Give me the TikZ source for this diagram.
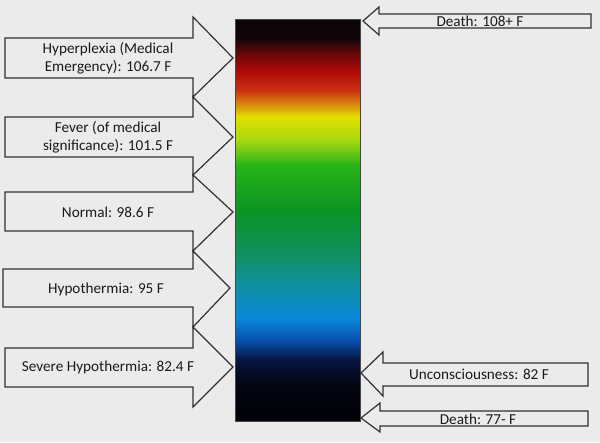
\documentclass[tikz,border=0pt]{standalone}
\usepackage{fontspec}
\setmainfont{Carlito}
\definecolor{bg}{HTML}{EBEBEB}
\definecolor{ink}{HTML}{1A1A1A}
\definecolor{c00}{HTML}{020208}
\definecolor{c01}{HTML}{030510}
\definecolor{c02}{HTML}{061440}
\definecolor{c03}{HTML}{0850B0}
\definecolor{c04}{HTML}{0A88D8}
\definecolor{c05}{HTML}{1090A8}
\definecolor{c06}{HTML}{109060}
\definecolor{c07}{HTML}{0C9424}
\definecolor{c08}{HTML}{28B418}
\definecolor{c09}{HTML}{A8D810}
\definecolor{c10}{HTML}{E2E000}
\definecolor{c11}{HTML}{D88010}
\definecolor{c12}{HTML}{C83010}
\definecolor{c13}{HTML}{B00A08}
\definecolor{c14}{HTML}{700808}
\definecolor{c15}{HTML}{100508}
\definecolor{c16}{HTML}{0A0508}
\pgfdeclareverticalshading{thermo}{100bp}{color(0bp)=(c00); color(25bp)=(c00); color(29.48bp)=(c01); color(32.59bp)=(c02); color(35.07bp)=(c03); color(37.81bp)=(c04); color(41.54bp)=(c05); color(45.65bp)=(c06); color(51.24bp)=(c07); color(56.84bp)=(c08); color(59.95bp)=(c09); color(62.81bp)=(c10); color(64.55bp)=(c11); color(66.17bp)=(c12); color(68.41bp)=(c13); color(70.52bp)=(c14); color(72.64bp)=(c15); color(75bp)=(c16); color(100bp)=(c16)}
\begin{document}
\begin{tikzpicture}[x=1pt,y=-1pt,
  arr/.style={draw=ink!90,line width=1.2pt,fill=bg,line join=miter},
  lbl/.style={text=ink,align=center,inner sep=0pt,font=\fontsize{15.2}{18}\selectfont}]
\fill[bg] (0,0) rectangle (600,442);
\useasboundingbox (0,0) rectangle (600,442);
% thermometer bar
\shade[shading=thermo] (235,19) rectangle (360,421);
\draw[draw=ink!80,line width=0.8pt] (235,19) rectangle (360,421);
% left arrows
\draw[arr] (5,38) -- (193,38) -- (193,17) -- (233,58) -- (193,97) -- (193,78) -- (5,78) -- cycle;
\draw[arr] (5,117) -- (193,117) -- (193,97) -- (233,137) -- (193,175) -- (193,157) -- (5,157) -- cycle;
\draw[arr] (5,192) -- (193,192) -- (193,175) -- (233,212) -- (193,251) -- (193,231) -- (5,231) -- cycle;
\draw[arr] (3,269) -- (193,269) -- (193,251) -- (230,288) -- (193,327) -- (193,307) -- (3,307) -- cycle;
\draw[arr] (5,348) -- (193,348) -- (193,327) -- (233,367) -- (193,407) -- (193,387) -- (5,387) -- cycle;
% right arrows
\draw[arr] (591,14) -- (379,14) -- (379,7) -- (363,21) -- (379,35) -- (379,28) -- (591,28) -- cycle;
\draw[arr] (588,363) -- (383,363) -- (383,352) -- (361,373) -- (383,396) -- (383,386) -- (588,386) -- cycle;
\draw[arr] (588,411) -- (380,411) -- (380,403) -- (361,418) -- (380,432) -- (380,426) -- (588,426) -- cycle;
% labels
\node[lbl] (t1) at (108,58) {Hyperplexia (Medical\\Emergency): 106.7 F};
\node[lbl] (t2) at (108,137) {Fever (of medical\\significance): 101.5 F};
\node[lbl] (t3) at (108,212) {Normal: 98.6 F};
\node[lbl] (t4) at (106,289) {Hypothermia: 95 F};
\node[lbl] (t5) at (108,367) {Severe Hypothermia: 82.4 F};
\node[lbl] (t6) at (480,21) {Death: 108+ F};
\node[lbl] (t7) at (479,374) {Unconsciousness: 82 F};
\node[lbl] (t8) at (478,419) {Death: 77- F};
\end{tikzpicture}
\end{document}
